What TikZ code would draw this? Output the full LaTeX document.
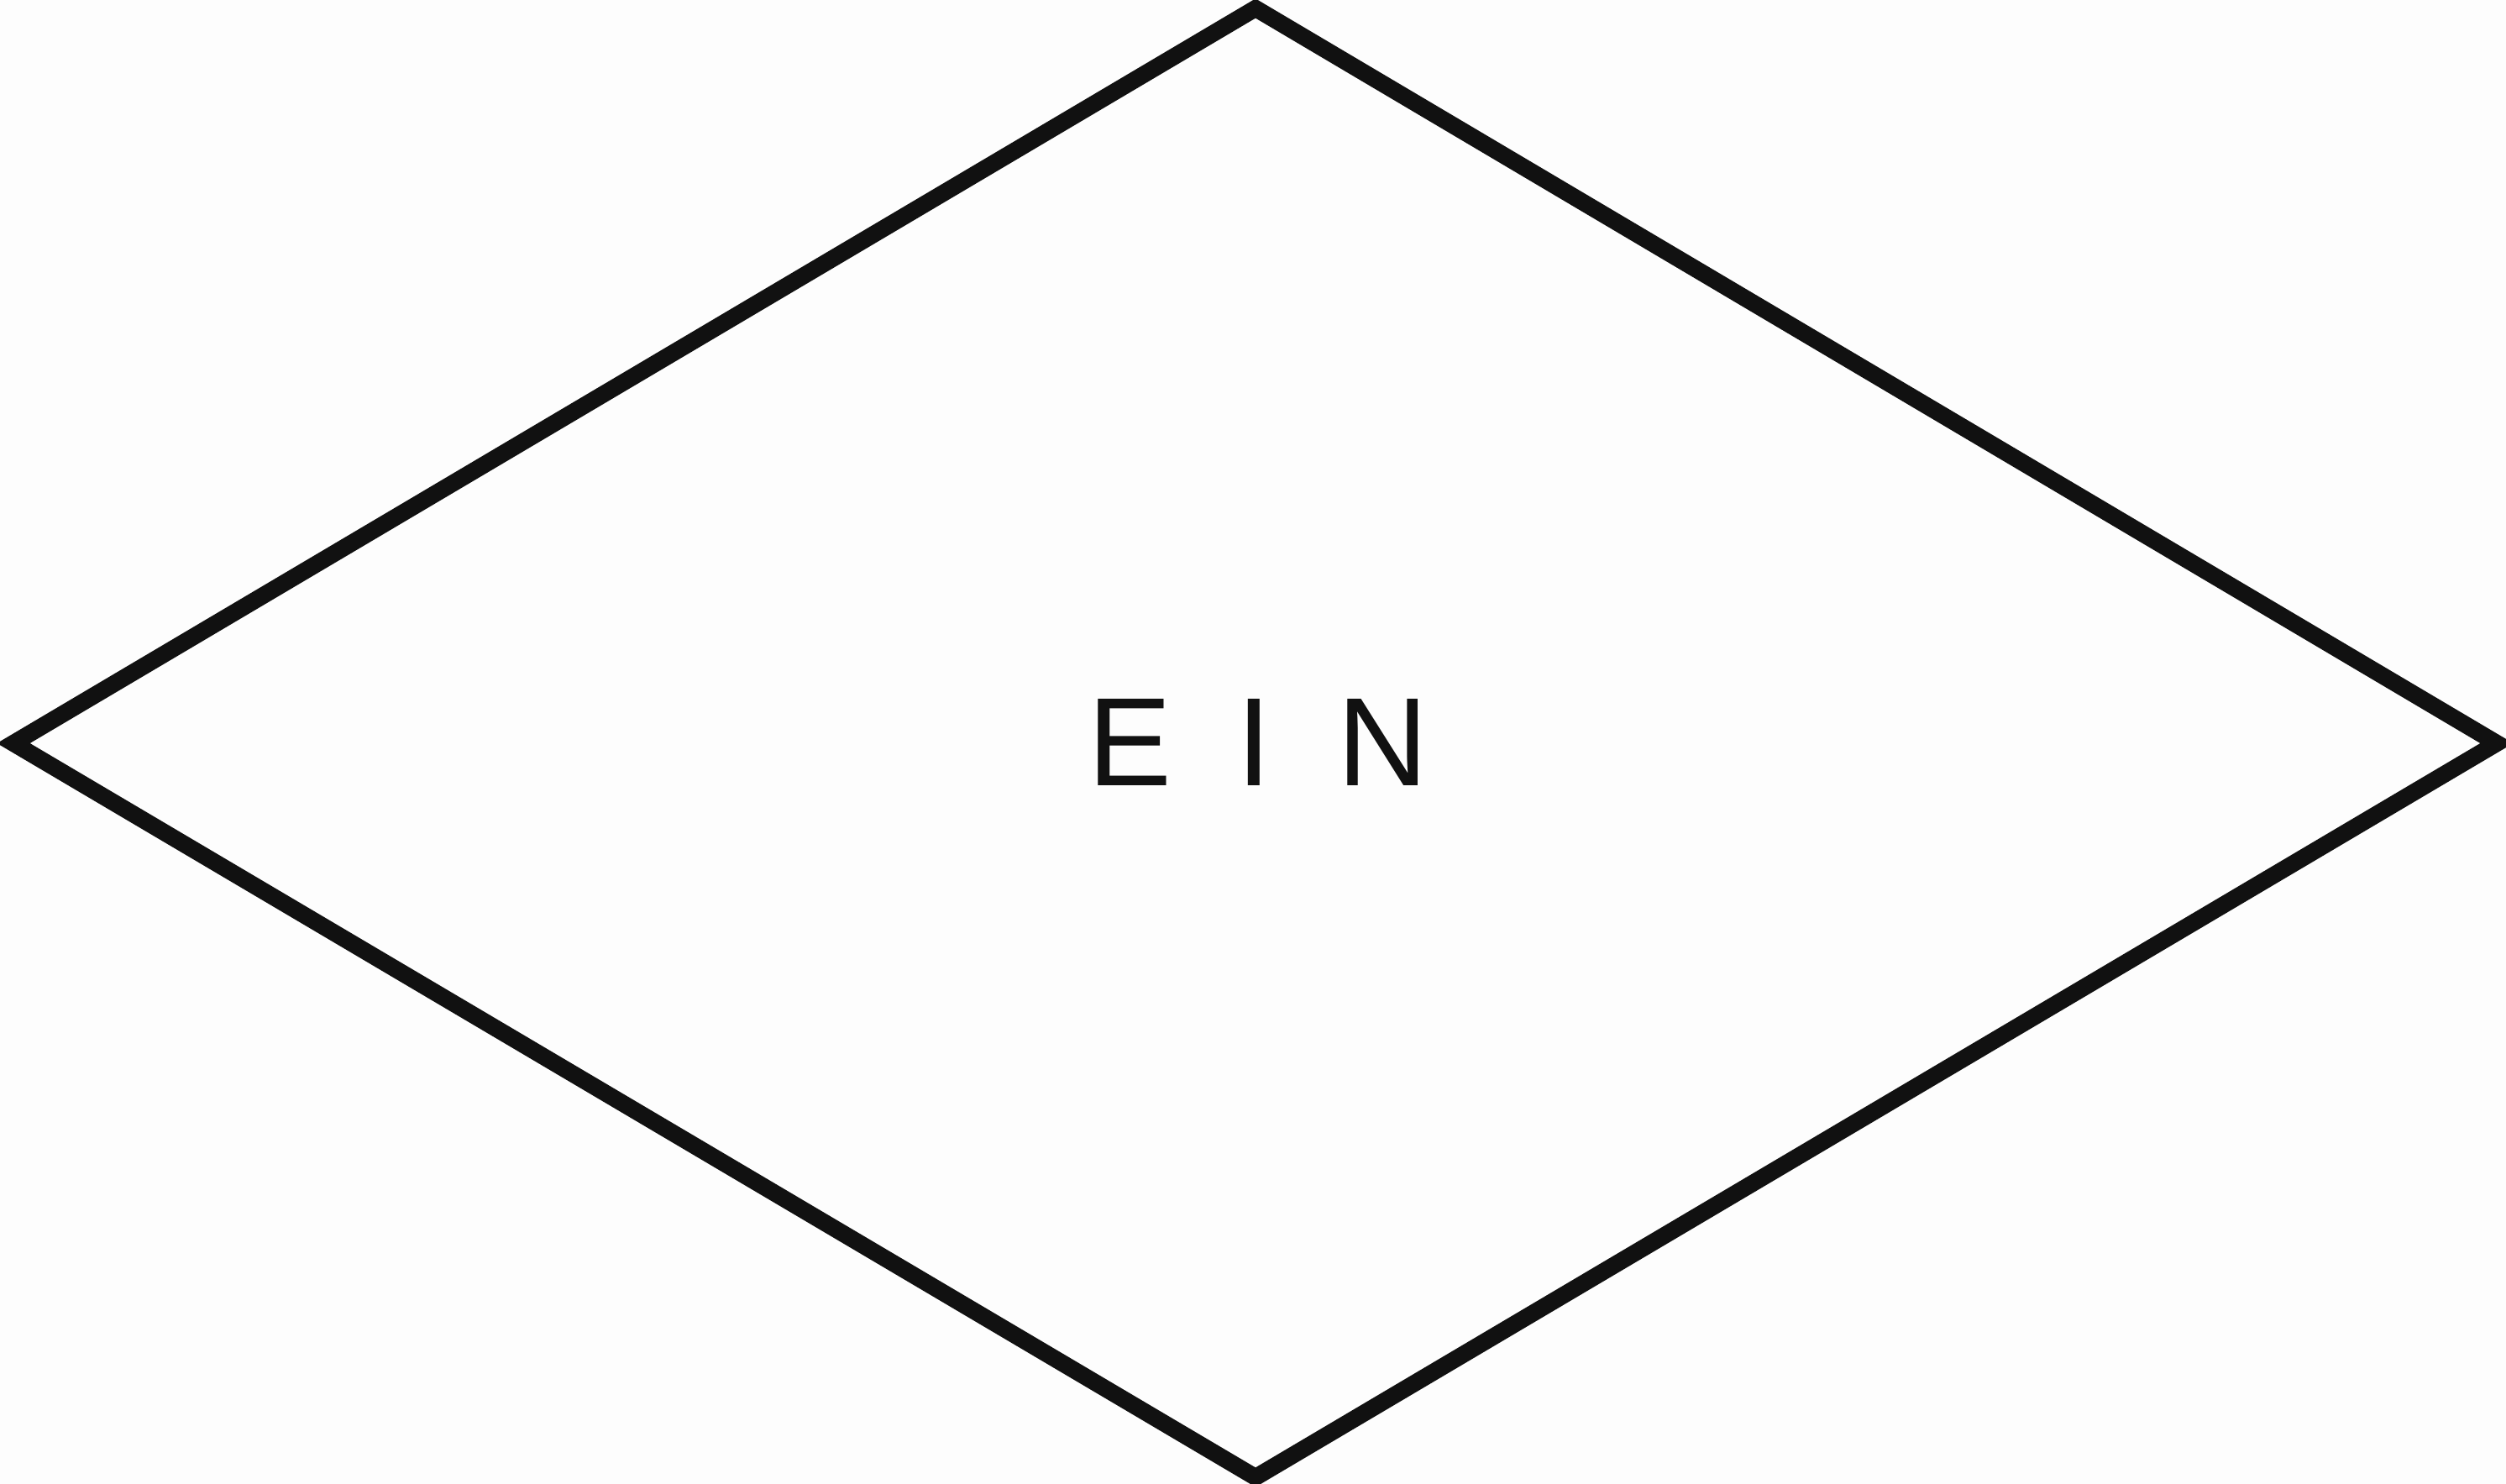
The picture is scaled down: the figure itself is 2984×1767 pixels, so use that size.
\documentclass[tikz,border=0pt]{standalone}
\usepackage{fontspec}
\setmainfont{Liberation Sans}
\usetikzlibrary{positioning}
\definecolor{ink}{HTML}{111111}
\definecolor{paper}{HTML}{FDFDFD}
\newcommand{\gapx}{\hspace{0.78cm}}

\begin{document}
\begin{tikzpicture}[
  x=0.01cm,y=-0.01cm,
  edge/.style={draw=ink,line width=0.2cm,line join=miter},
  lbl/.style={inner sep=0pt,anchor=base,text=ink,font=\fontsize{42.6pt}{46pt}\selectfont},
]

% page (fixes the margins)
\fill[paper] (0,0) rectangle (2984,1767);
\useasboundingbox (0,0) rectangle (2984,1767);

% corners of the diamond
\coordinate (top)    at (1495,10);
\coordinate (left)   at (16,885);
\coordinate (right)  at (2973,885);
\coordinate (bottom) at (1495,1759);

\draw[edge] (top) -- (right) -- (bottom) -- (left) -- cycle;

% label
\node[lbl] (ein) at (1498,935) {E\gapx I\gapx N};
\end{tikzpicture}
\end{document}
